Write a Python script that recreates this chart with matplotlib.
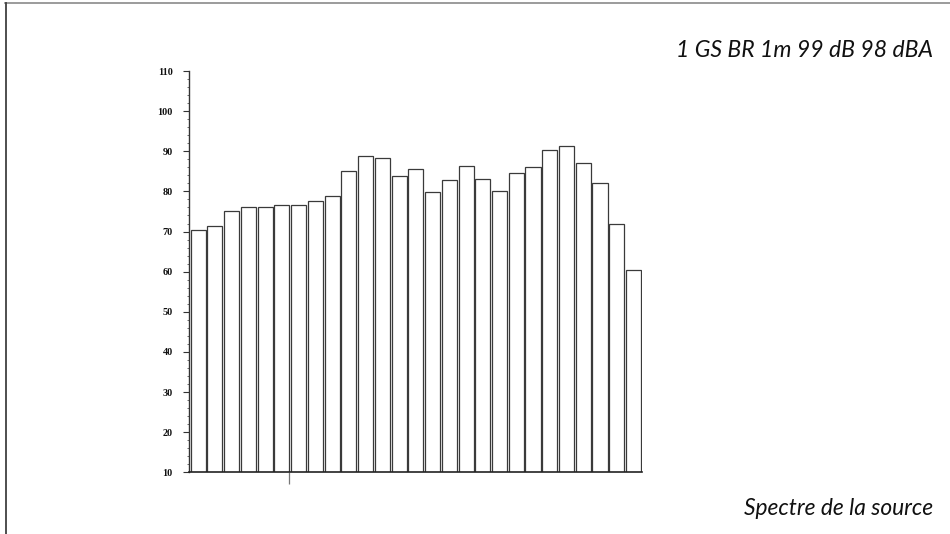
import matplotlib
matplotlib.use("Agg")
import matplotlib.pyplot as plt
from matplotlib.lines import Line2D
from matplotlib.ticker import MultipleLocator
import numpy as np

# ---- data -------------------------------------------------------------
band_index = list(range(27))
levels_db = [70.4, 71.5, 75.2, 76.2, 76.2, 76.6, 76.7, 77.7, 78.9, 85.0,
             88.7, 88.3, 83.8, 85.5, 79.9, 82.9, 86.4, 83.2, 80.2, 84.6,
             86.0, 90.4, 91.4, 87.1, 82.0, 71.8, 60.5]
y_ticks = [10, 20, 30, 40, 50, 60, 70, 80, 90, 100, 110]
y_tick_labels = ["10", "20", "30", "40", "50", "60", "70", "80", "90", "100", "110"]
marker_position = [5.9]
title_text = "1 GS BR 1m 99 dB 98 dBA"
footer_text = "Spectre de la source"

# ---- figure -----------------------------------------------------------
fig = plt.figure(figsize=(9.5, 5.34), dpi=100)
fig.patch.set_facecolor("white")

ax = fig.add_axes([0.1993, 0.1155, 0.4765, 0.7515])
ax.bar(band_index, levels_db, width=0.9, align="edge", bottom=0,
       facecolor="white", edgecolor="#3a3a3a", linewidth=0.9)

ax.set_ylim(10, 110)
ax.set_xlim(-0.08, 26.96)

ax.spines["top"].set_visible(False)
ax.spines["right"].set_visible(False)
ax.spines["left"].set_color("#333333")
ax.spines["bottom"].set_color("#222222")
ax.spines["left"].set_linewidth(1.0)
ax.spines["bottom"].set_linewidth(1.2)

ax.set_yticks(y_ticks)
ax.set_yticklabels(y_tick_labels, fontfamily="Liberation Serif",
                   fontweight="bold", fontsize=7.3, color="#111111")
ax.yaxis.set_minor_locator(MultipleLocator(2))
ax.tick_params(axis="y", which="major", direction="out", length=4.5,
               width=0.8, color="#333333", pad=7.5)
ax.tick_params(axis="y", which="minor", direction="out", length=1.5,
               width=0.6, color="#555555")

ax.set_xticks(marker_position)
ax.set_xticklabels([])
ax.tick_params(axis="x", which="major", direction="out", length=8.5,
               width=0.9, color="#777777")

fig.text(0.982, 0.893, title_text, ha="right", va="baseline",
         fontfamily="Lato", style="italic", fontsize=16.6, color="#111111")
fig.text(0.982, 0.036, footer_text, ha="right", va="baseline",
         fontfamily="Lato", style="italic", fontsize=16.4, color="#111111")

# page frame (top and left edges)
fig.add_artist(Line2D([0.005, 1.0], [0.994, 0.994], transform=fig.transFigure,
                      color="#8a8a8a", linewidth=1.2))
fig.add_artist(Line2D([0.0063, 0.0063], [0.0, 0.994], transform=fig.transFigure,
                      color="#404040", linewidth=1.3))

fig.savefig("out.png", dpi=100)
